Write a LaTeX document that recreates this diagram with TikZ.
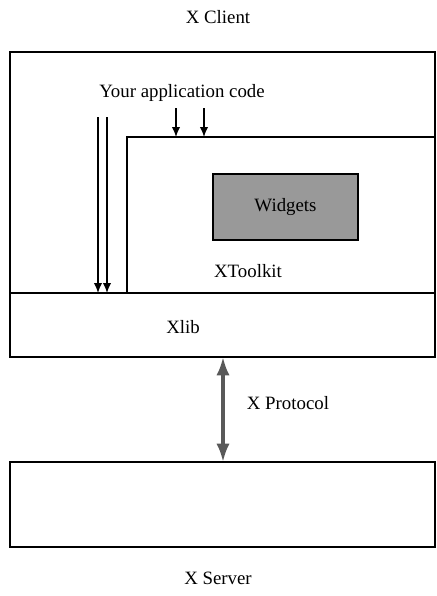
\documentclass[tikz,border=0pt]{standalone}
\usepackage{fontspec}
\setmainfont{Liberation Serif}
\usetikzlibrary{arrows.meta}

\begin{document}
\begin{tikzpicture}[x=0.6pt,y=-0.6pt,font=\fontsize{11.3}{13}\selectfont,
    frame/.style={line width=1.2pt},
    layer/.style={line width=0.9pt},
    call/.style={line width=0.8pt,-{Latex[length=6pt,width=5pt]}},
    proto/.style={line width=2pt,draw=black!65,fill=black!65,{Latex[length=11pt,width=8pt]}-{Latex[length=11pt,width=8pt]}}]
    \useasboundingbox (0,0) rectangle (436,596);
    % client side
    \draw[frame] (10,52) rectangle (435,357);
    \draw[layer] (10,293) -- (435,293);
    \draw[layer] (127,293) -- (127,137) -- (435,137);
    \node[draw,line width=0.9pt,fill=black!40,minimum width=87pt,minimum height=39.6pt] (widgets) at (285.5,207) {Widgets};
    \node (toolkit) at (248,271) {XToolkit};
    \node (xlib) at (183,327) {Xlib};
    \node (app) at (182,93) {Your application code};
    \node (client) at (218,17) {X Client};
    % calls into toolkit and xlib
    \coordinate (tka) at (176,137);
    \coordinate (tkb) at (204,137);
    \coordinate (xla) at (98,293);
    \coordinate (xlb) at (107,293);
    \draw[call] (176,108) -- (tka);
    \draw[call] (204,108) -- (tkb);
    \draw[call] (98,117) -- (xla);
    \draw[call] (107,117) -- (xlb);
    % server side
    \draw[frame] (10,462) rectangle (435,547);
    \node (server) at (218,578) {X Server};
    \coordinate (ctop) at (223,357);
    \coordinate (sbot) at (223,462);
    \draw[proto] (ctop) -- (sbot);
    \node[anchor=west] (protocol) at (241,403) {X Protocol};
\end{tikzpicture}
\end{document}
